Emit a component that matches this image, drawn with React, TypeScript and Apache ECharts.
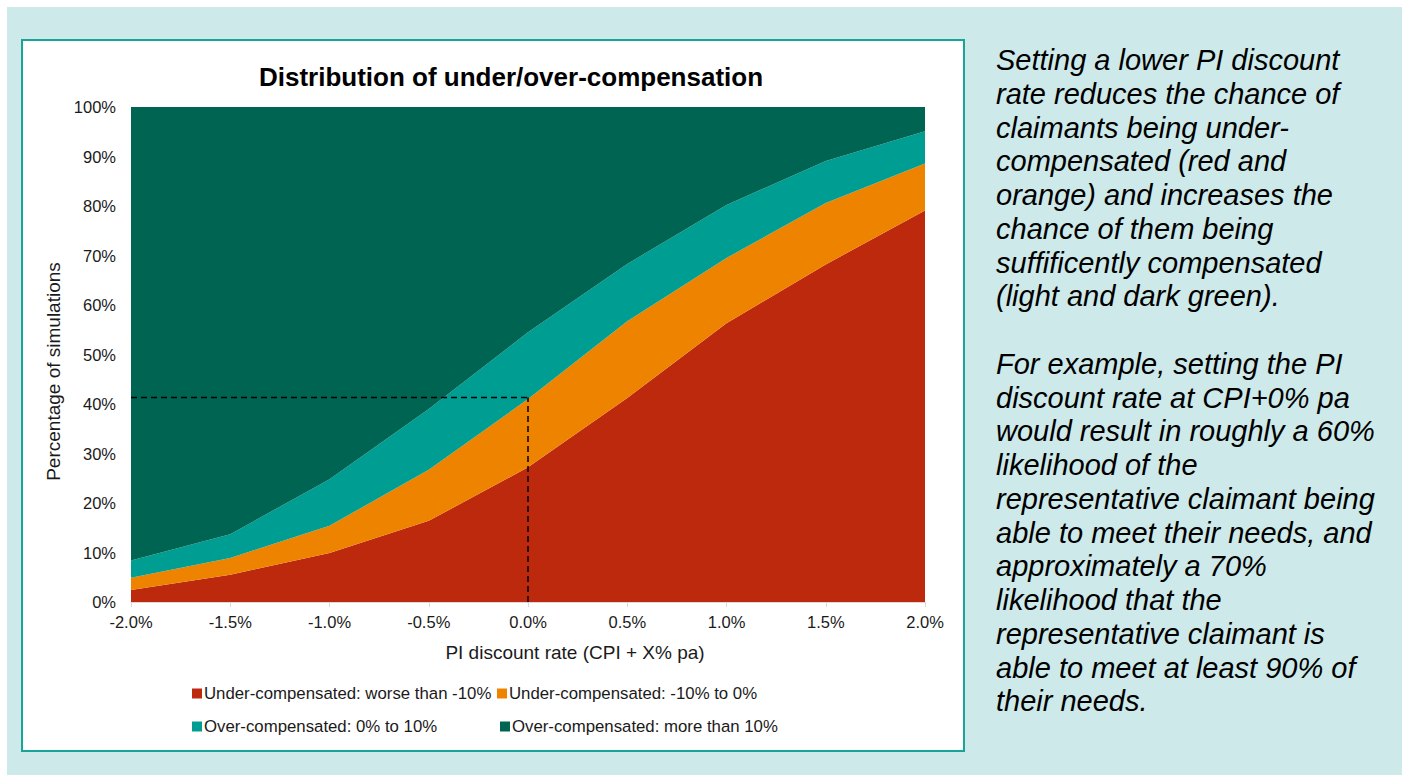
import React, { useEffect, useRef } from "react";
import * as echarts from "echarts";

const categories = ["-2.0%", "-1.5%", "-1.0%", "-0.5%", "0.0%", "0.5%", "1.0%", "1.5%", "2.0%"];
const underWorse = [2.4, 5.5, 9.9, 16.4, 27.2, 41.2, 56.3, 68.2, 79.1];
const underMild = [2.5, 3.4, 5.5, 10.3, 13.8, 15.5, 13.2, 12.4, 9.5];
const overMild = [3.5, 4.8, 9.4, 12.3, 13.5, 11.6, 10.7, 8.5, 6.5];
const overMore = [91.6, 86.3, 75.2, 61.0, 45.5, 31.7, 19.8, 10.9, 4.9];
const seriesNames = [
  "Under-compensated: worse than -10%",
  "Under-compensated: -10% to 0%",
  "Over-compensated: 0% to 10%",
  "Over-compensated: more than 10%",
];
const guideValue = 41.3;
const guideCategory = "0.0%";

const noteLines = [
  "Setting a lower PI discount",
  "rate reduces the chance of",
  "claimants being under-",
  "compensated (red and",
  "orange) and increases the",
  "chance of them being",
  "suffificently compensated",
  "(light and dark green).",
  "",
  "For example, setting the PI",
  "discount rate at CPI+0% pa",
  "would result in roughly a 60%",
  "likelihood of the",
  "representative claimant being",
  "able to meet their needs, and",
  "approximately a 70%",
  "likelihood that the",
  "representative claimant is",
  "able to meet at least 90% of",
  "their needs.",
];

const colors = ["#bd290d", "#ee8300", "#009e92", "#006452"];
const FONT = "'Liberation Sans', Arial, sans-serif";

export default function App() {
  const ref = useRef<HTMLDivElement>(null);
  useEffect(() => {
    if (!ref.current) return;
    const chart = echarts.init(ref.current, undefined, { renderer: "svg" });
    const values = [underWorse, underMild, overMild, overMore];
    const guideData = categories.map((c, i) => (i <= categories.indexOf(guideCategory) ? guideValue : "-"));
    const legendPos = [
      { left: 192, top: 685 },
      { left: 497, top: 685 },
      { left: 192, top: 718 },
      { left: 500, top: 718 },
    ];
    const option: any = {
      animation: false,
      textStyle: { fontFamily: FONT },
      graphic: [
        { type: "rect", z: -10, shape: { x: 7, y: 7, width: 1395, height: 768 }, style: { fill: "#cde9e9" } },
        {
          type: "rect",
          z: -9,
          shape: { x: 22, y: 40, width: 942, height: 711 },
          style: { fill: "#ffffff", stroke: "#17a499", lineWidth: 2 },
        },
        {
          type: "text",
          x: 511,
          y: 77,
          style: {
            text: "Distribution of under/over-compensation",
            font: `bold 26px ${FONT}`,
            fill: "#000000",
            textAlign: "center",
            textVerticalAlign: "middle",
          },
        },
        ...noteLines.map((t, i) => ({
          type: "text",
          x: 996,
          y: 60 + i * 33.75,
          style: {
            text: t,
            font: `italic 29px ${FONT}`,
            fill: "#000000",
            textAlign: "left",
            textVerticalAlign: "middle",
          },
        })),
      ],
      legend: seriesNames.map((n, i) => ({
        data: [n],
        left: legendPos[i].left,
        top: legendPos[i].top,
        icon: "rect",
        itemWidth: 10,
        itemHeight: 10,
        itemGap: 0,
        padding: 0,
        selectedMode: false,
        textStyle: { fontSize: 16.8, color: "#1a1a1a", fontFamily: FONT, padding: [0, 0, 0, -3] },
      })),
      grid: { left: 131, right: 482, top: 107, bottom: 173 },
      xAxis: {
        type: "category",
        data: categories,
        boundaryGap: false,
        axisLine: { lineStyle: { color: "#d9d9d9", width: 1 } },
        axisTick: { show: true, length: 5, lineStyle: { color: "#d9d9d9" } },
        axisLabel: { fontSize: 16.5, color: "#1a1a1a", margin: 11 },
        name: "PI discount rate (CPI + X% pa)",
        nameLocation: "middle",
        nameGap: 41,
        nameTextStyle: { fontSize: 19, color: "#1a1a1a", padding: [0, 0, 0, 94] },
      },
      yAxis: {
        type: "value",
        min: 0,
        max: 100,
        interval: 10,
        axisLabel: { formatter: "{value}%", fontSize: 16.5, color: "#1a1a1a", margin: 15 },
        axisLine: { show: false },
        axisTick: { show: false },
        splitLine: { show: false },
        name: "Percentage of simulations",
        nameLocation: "middle",
        nameRotate: 90,
        nameGap: 63,
        nameTextStyle: { fontSize: 19, color: "#1a1a1a", padding: [0, 34, 0, 0] },
      },
      series: [
        ...seriesNames.map((n, i) => ({
          name: n,
          type: "line",
          stack: "total",
          data: values[i],
          symbol: "none",
          lineStyle: { width: 0 },
          areaStyle: { color: colors[i], opacity: 1 },
          itemStyle: { color: colors[i] },
          z: 2,
        })),
        {
          name: "guide",
          type: "line",
          data: guideData,
          symbol: "none",
          silent: true,
          z: 5,
          lineStyle: { color: "#000000", width: 1.5, type: [6, 4] },
          markLine: {
            silent: true,
            symbol: "none",
            label: { show: false },
            lineStyle: { color: "#000000", width: 1.5, type: [6, 4] },
            data: [[{ coord: [guideCategory, 0] }, { coord: [guideCategory, guideValue] }]],
          },
        },
      ],
    };
    chart.setOption(option);
    return () => chart.dispose();
  }, []);
  return (
    <div
      ref={ref}
      style={{ position: "fixed", left: 0, top: 0, width: 1407, height: 775, background: "#ffffff" }}
    />
  );
}
